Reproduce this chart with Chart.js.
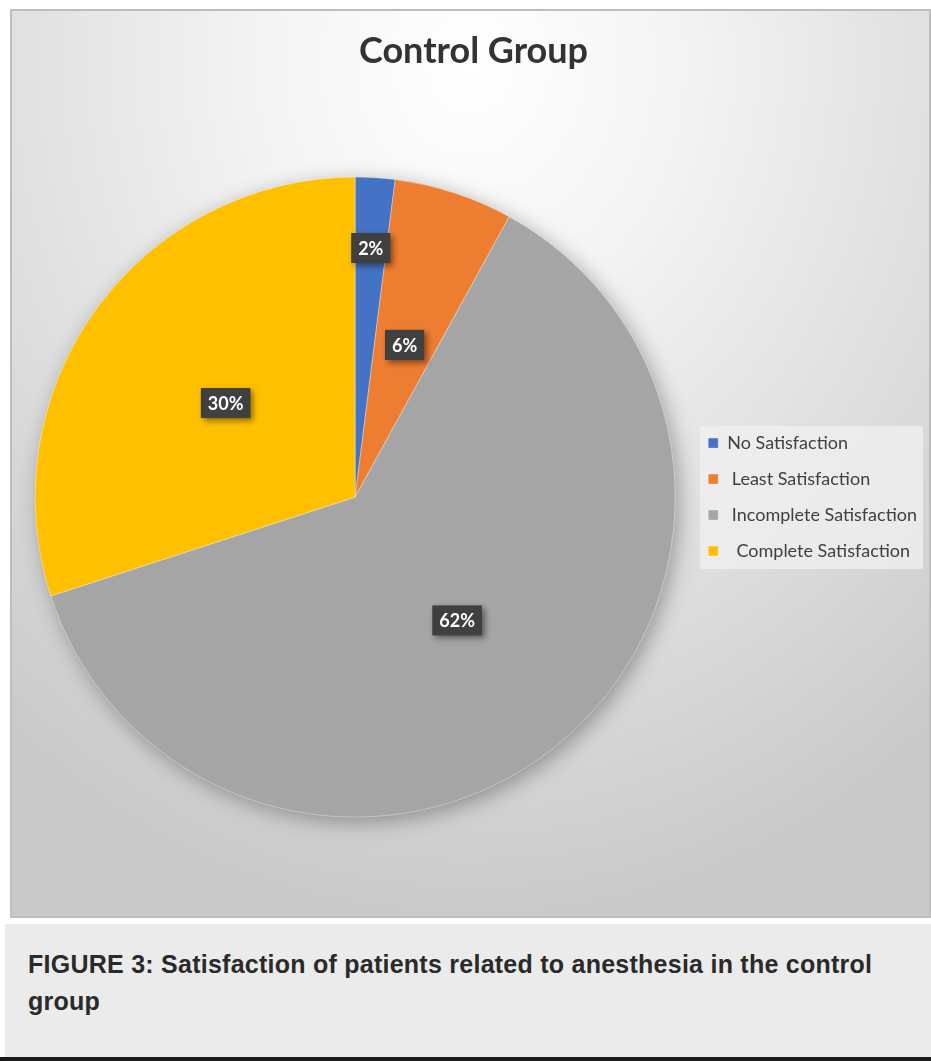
<!DOCTYPE html>
<html>
<head>
<meta charset="utf-8">
<script src="https://cdn.jsdelivr.net/npm/chart.js@4.4.1/dist/chart.umd.min.js"></script>
<style>
  html, body { margin: 0; padding: 0; background: #fff; }
  body { width: 931px; height: 1061px; position: relative; overflow: hidden; }
  #frame {
    position: absolute; left: 10px; top: 9px; width: 921px; height: 909px;
    background: radial-gradient(ellipse 80% 95% at 50% 6%, #ffffff 0%, #f4f4f4 28%, #dddddd 68%, #c9c9c9 100%);
    box-shadow: inset 0 0 0 2px #bdbdbd;
  }
  #frame canvas { position: absolute; left: 0; top: 0; }
  #caption { position: absolute; left: 5px; top: 924px; width: 926px; height: 133px; background: #ebebeb; }
  #caption .txt {
    position: absolute; left: 23px; top: 22px; white-space: nowrap;
    font: bold 25px "Liberation Sans", Arial, sans-serif; line-height: 37px; color: #2a2a2a;
    letter-spacing: 0.25px;
  }
  #rule { position: absolute; left: 0; top: 1057px; width: 931px; height: 4px; background: #1a1a1a; }
</style>
</head>
<body>
<div id="frame"><canvas id="pieChart" width="921" height="909"></canvas></div>
<div id="caption"><div class="txt">FIGURE 3: Satisfaction of patients related to anesthesia in the control<br>group</div></div>
<div id="rule"></div>
<script>
// chart data
const categories = ['No Satisfaction', ' Least Satisfaction', ' Incomplete Satisfaction', '  Complete Satisfaction'];
const percentValues = [2, 6, 62, 30];
const percentLabels = ['2%', '6%', '62%', '30%'];
const sliceColors = ['#4472C4', '#ED7D31', '#A5A5A5', '#FFC000'];

// soft shadow under the whole pie
const pieShadow = {
  id: 'pieShadow',
  beforeDatasetsDraw(chart) {
    const arc = chart.getDatasetMeta(0).data[0];
    if (!arc) return;
    const ctx = chart.ctx;
    ctx.save();
    ctx.shadowColor = 'rgba(0,0,0,0.35)';
    ctx.shadowBlur = 22;
    ctx.shadowOffsetX = 4;
    ctx.shadowOffsetY = 5;
    ctx.fillStyle = '#a5a5a5';
    ctx.beginPath();
    ctx.arc(arc.x, arc.y, arc.outerRadius - 1, 0, Math.PI * 2);
    ctx.fill();
    ctx.restore();
  }
};

// pale panel behind the legend items
const legendPanel = {
  id: 'legendPanel',
  beforeDraw(chart) {
    const hb = chart.legend && chart.legend.legendHitBoxes;
    if (!hb || !hb.length) return;
    const ctx = chart.ctx;
    const last = hb[hb.length - 1];
    const top = hb[0].top - 8;
    const bottom = last.top + last.height + 9;
    const left = hb[0].left - 8;
    const right = Math.max(...hb.map(b => b.left + b.width)) + 6;
    ctx.save();
    ctx.fillStyle = 'rgba(240,240,240,0.75)';
    ctx.fillRect(left, top, right - left, bottom - top);
    ctx.restore();
  }
};

// dark callout boxes with the percentages
const sliceLabels = {
  id: 'sliceLabels',
  afterDatasetsDraw(chart, args, opts) {
    const ctx = chart.ctx;
    const arcs = chart.getDatasetMeta(0).data;
    ctx.save();
    ctx.font = 'bold 18px Lato';
    ctx.textAlign = 'center';
    ctx.textBaseline = 'middle';
    arcs.forEach((arc, i) => {
      const mid = (arc.startAngle + arc.endAngle) / 2;
      const r = arc.outerRadius * opts.radiusFactor[i];
      const x = arc.x + Math.cos(mid) * r;
      const y = arc.y + Math.sin(mid) * r;
      const text = percentLabels[i];
      const w = ctx.measureText(text).width + 14;
      const h = 30;
      ctx.save();
      ctx.shadowColor = 'rgba(0,0,0,0.45)';
      ctx.shadowBlur = 6;
      ctx.shadowOffsetX = 3;
      ctx.shadowOffsetY = 3;
      ctx.fillStyle = '#404040';
      ctx.fillRect(x - w / 2, y - h / 2, w, h);
      ctx.restore();
      ctx.fillStyle = '#ffffff';
      ctx.fillText(text, x, y + 1);
    });
    ctx.restore();
  }
};

const ctx = document.getElementById('pieChart').getContext('2d');
const myChart = new Chart(ctx, {
  type: 'pie',
  data: {
    labels: categories,
    datasets: [
      {
        data: percentValues,
        backgroundColor: sliceColors,
        borderWidth: 1,
        borderColor: 'rgba(255,255,255,0.35)',
        hoverOffset: 0,
        radius: 320
      }
    ]
  },
  options: {
    responsive: false,
    animation: false,
    events: [],
    layout: { padding: { left: 10, right: 4, top: 0, bottom: 7 } },
    plugins: {
      title: {
        display: true,
        text: 'Control Group',
        color: '#333333',
        font: { family: 'Lato', size: 36, weight: 'bold' },
        padding: { top: 21, bottom: 10 }
      },
      legend: {
        position: 'right',
        align: 'center',
        fullSize: false,
        labels: {
          boxWidth: 10,
          boxHeight: 10,
          padding: 18,
          color: '#404040',
          font: { family: 'Lato', size: 18 }
        }
      },
      tooltip: { enabled: false },
      sliceLabels: { radiusFactor: [0.78, 0.5, 0.5, 0.5] }
    }
  },
  plugins: [pieShadow, legendPanel, sliceLabels]
});
</script>
</body>
</html>
